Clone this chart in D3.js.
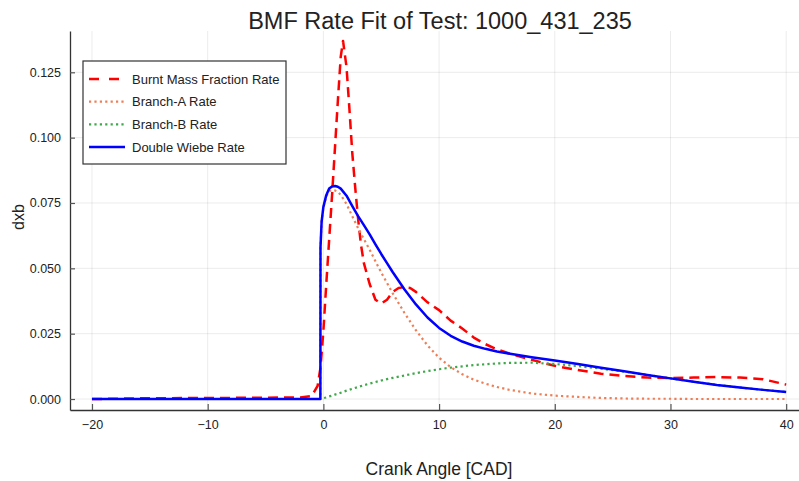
<!DOCTYPE html>
<html>
<head>
<meta charset="utf-8">
<script src="https://cdn.jsdelivr.net/npm/d3@7"></script>
<style>
  body { margin: 0; background: #fff; }
  text { font-family: "Liberation Sans", Arial, sans-serif; }
</style>
</head>
<body>
<svg id="chart"></svg>
<script>
// measured burnt mass fraction rate
const cadBmf = [-20, -15, -10, -5, -2, -1, -0.5, -0.25, 0, 0.25, 0.5, 0.75, 1.0, 1.25, 1.5, 1.7, 2.0, 2.25, 2.5, 2.75,
  3.0, 3.25, 3.5, 4.0, 4.5, 5.0, 5.5, 6.0, 6.5, 7.0, 7.5, 8.0, 9.0, 10, 11, 12, 13, 14, 15, 16,
  18, 20, 22, 24, 26, 28, 30, 32, 34, 36, 38, 40];
const bmfRate = [0, 0.0003, 0.0004, 0.0005, 0.0006, 0.0012, 0.005, 0.012, 0.026, 0.044, 0.061, 0.078, 0.096, 0.114, 0.131, 0.137, 0.127, 0.111, 0.094, 0.081,
  0.069, 0.059, 0.052, 0.044, 0.038, 0.0365, 0.038, 0.041, 0.0425, 0.0428, 0.0425, 0.041, 0.037, 0.034, 0.030, 0.027, 0.0235, 0.021, 0.019, 0.0175,
  0.015, 0.0127, 0.0111, 0.0097, 0.0088, 0.0082, 0.008, 0.0082, 0.0084, 0.0082, 0.0076, 0.0055];

// double wiebe fit and its two branches
const cadFit = [-20, -0.26, -0.25, -0.15, 0, 0.25, 0.5, 0.75, 1.0, 1.25, 1.5, 2, 2.5, 3, 3.5, 4, 4.5, 5, 5.5, 6,
  7, 8, 9, 10, 11, 12, 13, 14, 15, 16, 18, 20, 22, 24, 26, 28, 30, 32, 34, 36, 38, 40];
const fitRate = [0, 0, 0.058, 0.068, 0.0735, 0.078, 0.0805, 0.0813, 0.0815, 0.0812, 0.0805, 0.0778, 0.0738, 0.070, 0.0665, 0.063, 0.0592, 0.0555, 0.052, 0.0485,
  0.042, 0.0362, 0.0312, 0.0272, 0.0242, 0.0220, 0.0204, 0.0192, 0.0182, 0.0174, 0.0160, 0.0147, 0.0134, 0.0120, 0.0106, 0.0092, 0.0079, 0.0066, 0.0054, 0.0044, 0.0035, 0.0027];
const branchA = [0, 0, 0.058, 0.0679, 0.0732, 0.0774, 0.0795, 0.080, 0.0798, 0.0792, 0.0781, 0.0746, 0.0699, 0.0654, 0.0612, 0.0571, 0.0527, 0.0484, 0.0444, 0.0404,
  0.033, 0.0263, 0.0205, 0.0158, 0.0122, 0.0095, 0.0074, 0.0059, 0.0046, 0.0036, 0.0021, 0.0013, 0.0008, 0.0004, 0.0002, 0.0001, 0.0001, 0, 0, 0, 0, 0];
const branchB = [0, 0, 0, 0.0001, 0.0003, 0.0006, 0.001, 0.0013, 0.0017, 0.002, 0.0024, 0.0032, 0.0039, 0.0046, 0.0053, 0.0059, 0.0065, 0.0071, 0.0076, 0.0081,
  0.009, 0.0099, 0.0107, 0.0114, 0.0120, 0.0125, 0.0130, 0.0133, 0.0136, 0.0138, 0.0139, 0.0134, 0.0126, 0.0116, 0.0105, 0.0092, 0.0079, 0.0066, 0.0054, 0.0044, 0.0035, 0.0027];

const xTicks = [-20, -10, 0, 10, 20, 30, 40];
const yTicks = [0, 0.025, 0.05, 0.075, 0.1, 0.125];

const series = [
  { name: "Burnt Mass Fraction Rate", xs: cadBmf, ys: bmfRate, color: "#ff0000", width: 2.5, dash: "10,6", key: "10,10" },
  { name: "Branch-A Rate", xs: cadFit, ys: branchA, color: "#ef7d55", width: 2.2, dash: "2.2,3.2", key: "2.2,3.2" },
  { name: "Branch-B Rate", xs: cadFit, ys: branchB, color: "#3fa84a", width: 2.2, dash: "2.2,3.2", key: "2.2,3.2" },
  { name: "Double Wiebe Rate", xs: cadFit, ys: fitRate, color: "#0000ff", width: 2.5, dash: null, key: null }
];

const width = 799, height = 481;
const margin = { top: 31, right: -8, bottom: 71, left: 70 };

const svg = d3.select("#chart")
  .attr("width", width)
  .attr("height", height);

const x = d3.scaleLinear()
  .domain([-21.9, 41.8])
  .range([margin.left, width - margin.right]);

const y = d3.scaleLinear()
  .domain([-0.0042, 0.1408])
  .range([height - margin.bottom, margin.top]);

// grid
svg.append("g")
  .selectAll("line")
  .data(xTicks)
  .enter()
  .append("line")
  .attr("x1", d => x(d)).attr("x2", d => x(d))
  .attr("y1", y.range()[0]).attr("y2", y.range()[1])
  .attr("stroke", "#000").attr("stroke-opacity", 0.08);

svg.append("g")
  .selectAll("line")
  .data(yTicks)
  .enter()
  .append("line")
  .attr("x1", x.range()[0]).attr("x2", x.range()[1])
  .attr("y1", d => y(d)).attr("y2", d => y(d))
  .attr("stroke", "#000").attr("stroke-opacity", 0.08);

// axes
const xAxis = svg.append("g")
  .attr("transform", `translate(0, ${y.range()[0]})`)
  .call(d3.axisBottom(x).tickValues(xTicks).tickSizeInner(-6).tickSizeOuter(0).tickPadding(10)
    .tickFormat(d => String(d).replace("-", "\u2212")));

const yAxis = svg.append("g")
  .attr("transform", `translate(${x.range()[0]}, 0)`)
  .call(d3.axisLeft(y).tickValues(yTicks).tickSizeInner(-5).tickSizeOuter(0).tickPadding(9)
    .tickFormat(d3.format(".3f")));

[xAxis, yAxis].forEach(g => {
  g.select(".domain").attr("stroke", "#333").attr("stroke-width", 1.3);
  g.selectAll(".tick line").attr("stroke", "#555").attr("stroke-width", 1.2);
  g.selectAll(".tick text").attr("fill", "#222").style("font-size", "12.5px");
});

// curves
svg.append("clipPath").attr("id", "clip")
  .append("rect")
  .attr("x", x.range()[0]).attr("y", y.range()[1])
  .attr("width", x.range()[1] - x.range()[0])
  .attr("height", y.range()[0] - y.range()[1]);

const line = d3.line()
  .x(d => x(d[0]))
  .y(d => y(d[1]));

svg.append("g")
  .attr("clip-path", "url(#clip)")
  .selectAll("path")
  .data(series)
  .enter()
  .append("path")
  .attr("d", s => line(s.xs.map((v, i) => [v, s.ys[i]])))
  .attr("fill", "none")
  .attr("stroke", s => s.color)
  .attr("stroke-width", s => s.width)
  .attr("stroke-dasharray", s => s.dash)
  .attr("stroke-linejoin", "round");

// legend
const legend = svg.append("g")
  .attr("transform", "translate(83, 61)");

legend.append("rect")
  .attr("width", 203).attr("height", 103)
  .attr("fill", "#fff")
  .attr("stroke", "#333").attr("stroke-width", 1.2);

const rows = legend.selectAll(".row")
  .data(series)
  .enter()
  .append("g")
  .attr("transform", (d, i) => `translate(0, ${18 + i * 22.7})`);

rows.append("line")
  .attr("x1", 6).attr("x2", 42)
  .attr("stroke", d => d.color)
  .attr("stroke-width", d => d.width)
  .attr("stroke-dasharray", d => d.key);

rows.append("text")
  .attr("x", 49).attr("y", 4.5)
  .style("font-size", "13px")
  .attr("fill", "#222")
  .text(d => d.name);

// titles
svg.append("text")
  .attr("x", 440).attr("y", 29)
  .attr("text-anchor", "middle")
  .style("font-size", "23.5px")
  .attr("fill", "#222")
  .text("BMF Rate Fit of Test: 1000_431_235");

svg.append("text")
  .attr("x", 439).attr("y", 475)
  .attr("text-anchor", "middle")
  .style("font-size", "17.5px")
  .attr("fill", "#222")
  .text("Crank Angle [CAD]");

svg.append("text")
  .attr("transform", "translate(24, 217) rotate(-90)")
  .attr("text-anchor", "middle")
  .style("font-size", "16px")
  .attr("fill", "#222")
  .text("dxb");
</script>
</body>
</html>
